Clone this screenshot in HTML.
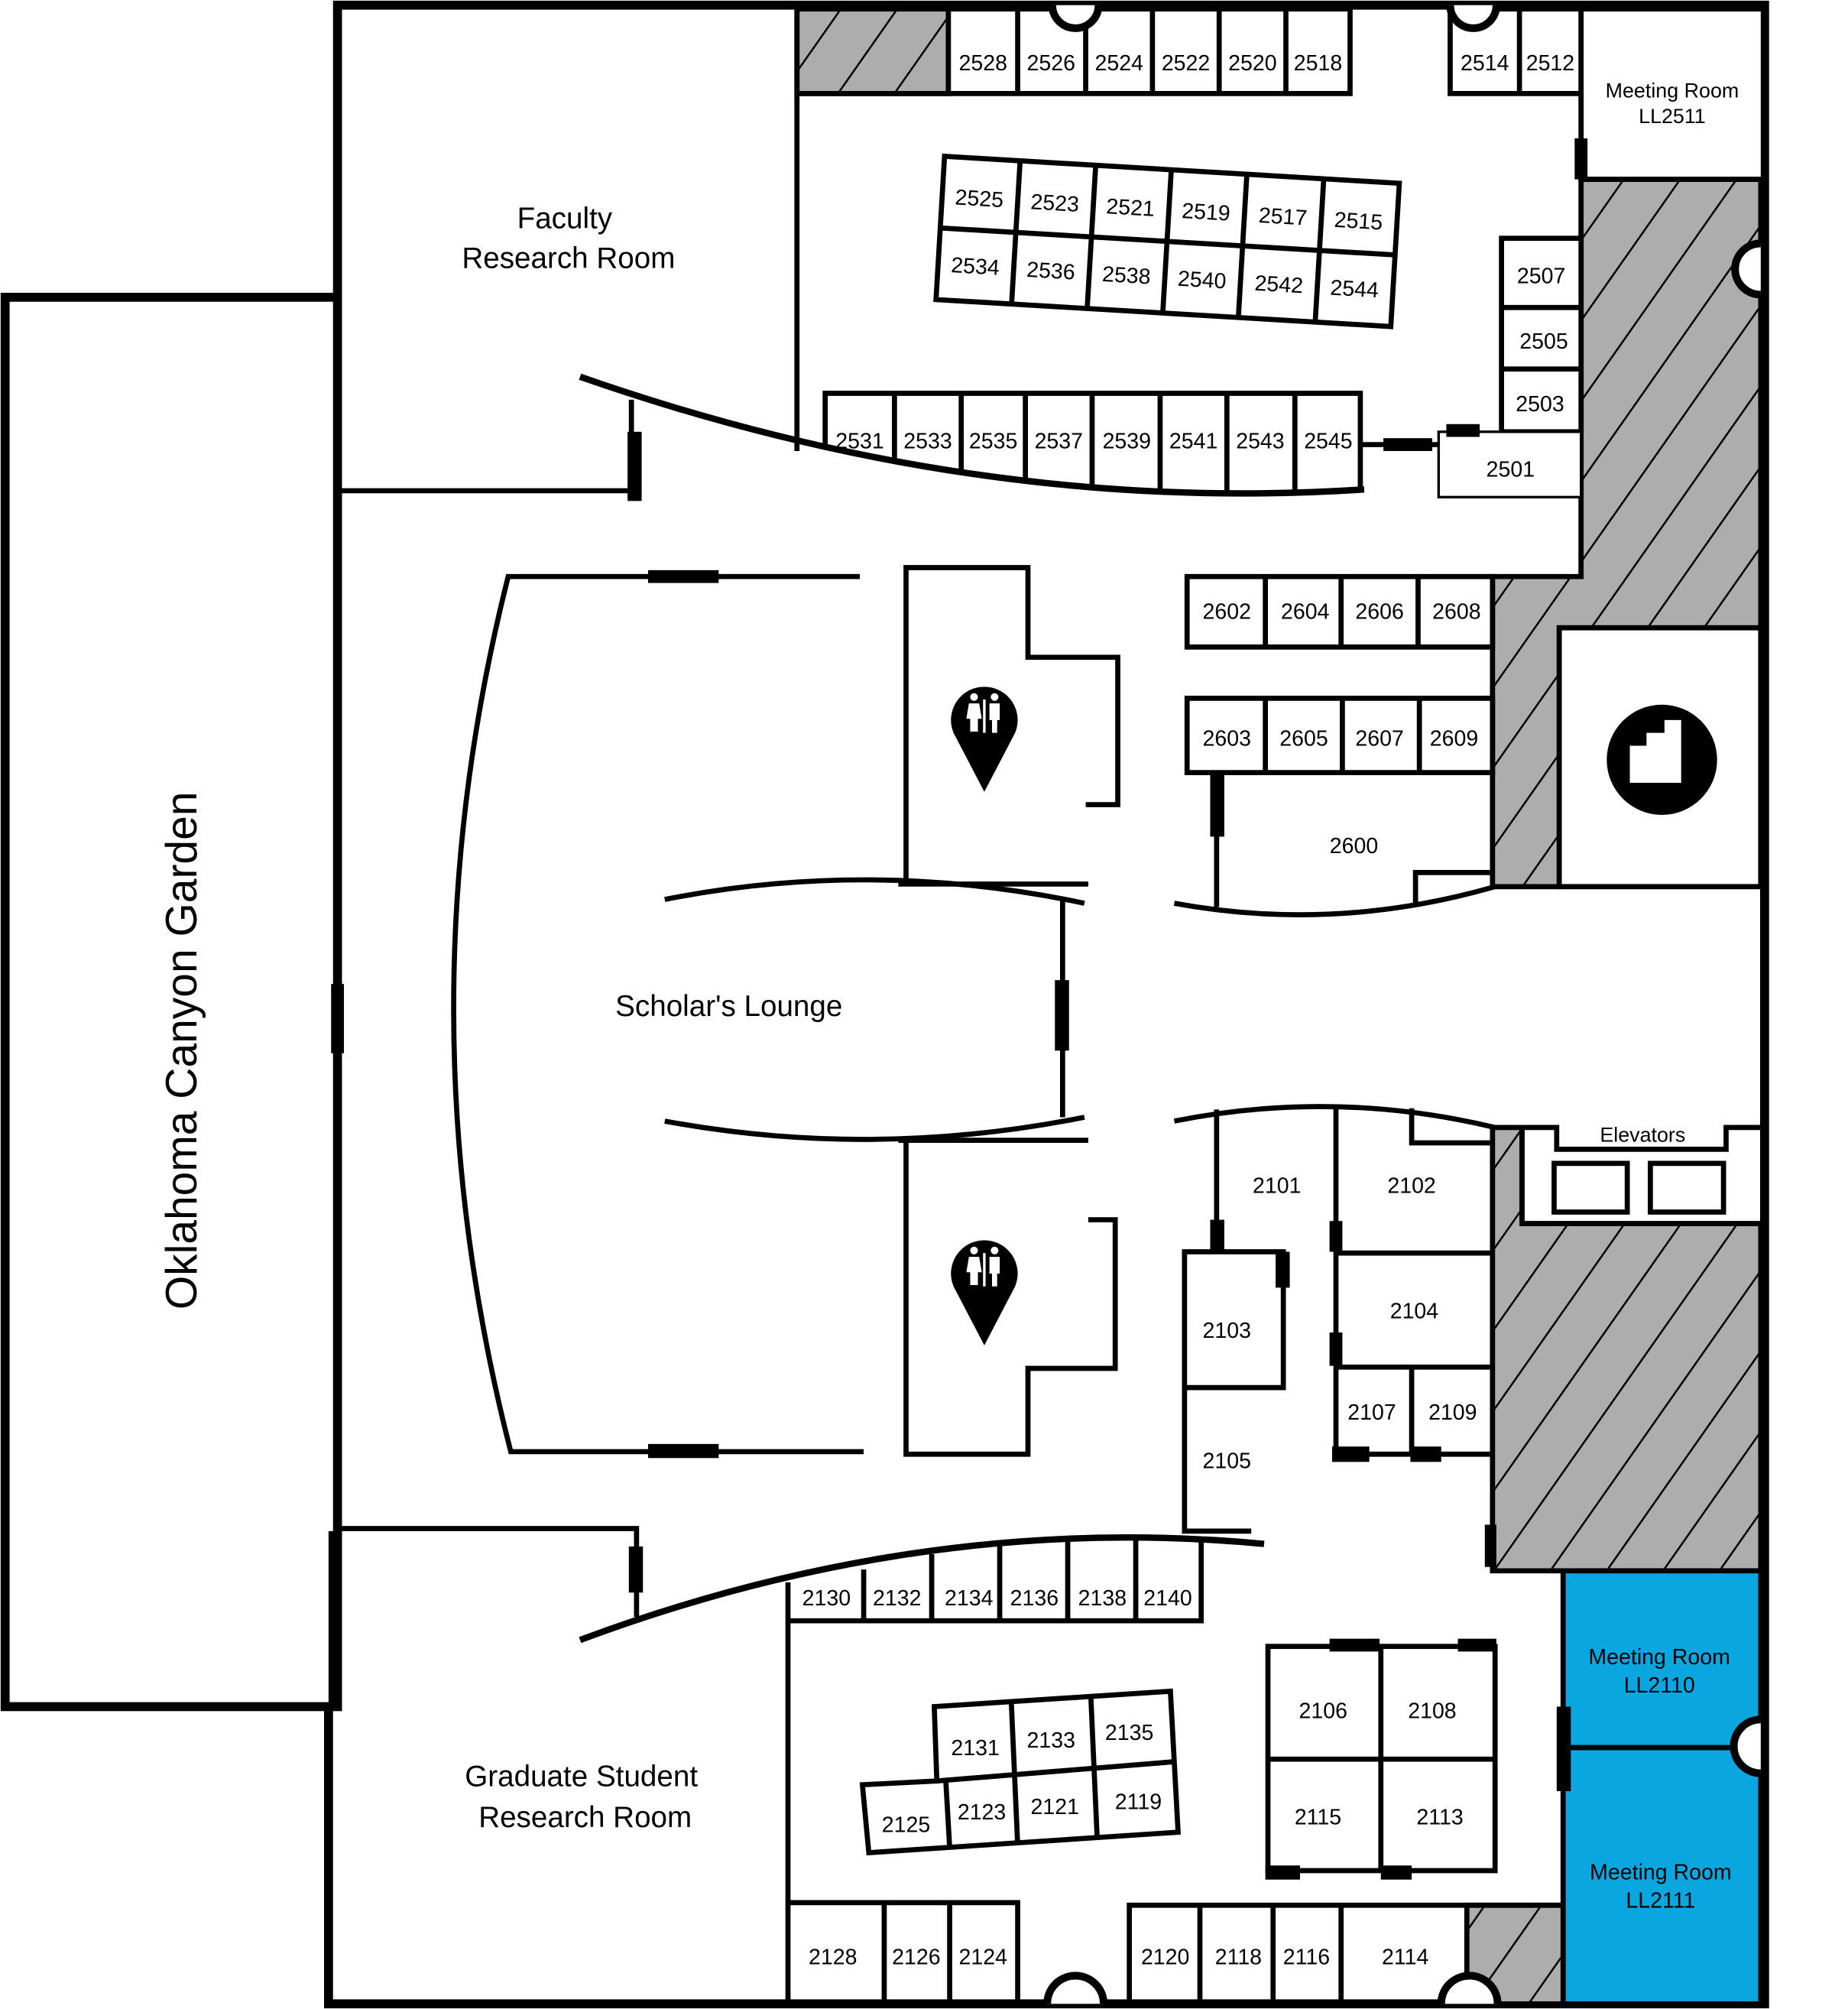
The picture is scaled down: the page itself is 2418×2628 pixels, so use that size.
<!DOCTYPE html>
<html><head><meta charset="utf-8"><style>
html,body{margin:0;padding:0;background:#fff;}
svg{display:block;}
text{font-family:"Liberation Sans",sans-serif;fill:#000;}
.t{font-size:17px;text-anchor:middle;}
.b{font-size:23px;text-anchor:middle;}
.w{fill:#fff;stroke:#000;stroke-width:4;}
.l{fill:none;stroke:#000;stroke-width:4;}
.h{fill:url(#hat);stroke:#000;stroke-width:4;}
</style></head><body>
<svg width="2418" height="2628" viewBox="0 0 1440 1568" preserveAspectRatio="none" xmlns="http://www.w3.org/2000/svg">
<defs>
<pattern id="hat" patternUnits="userSpaceOnUse" width="36" height="36" patternTransform="rotate(35)">
<rect width="36" height="36" fill="#adadad"/>
<line x1="0" y1="0" x2="0" y2="36" stroke="#000" stroke-width="3"/>
</pattern>
<g id="pin">
<path d="M0,60 L-24,14 A26,26 0 1,1 24,14 Z" fill="#000"/>
<circle cx="-8" cy="-14" r="3" fill="#fff"/><path d="M-12,-9 h8 l2,12 h-3 v10 h-6 v-10 h-3 z" fill="#fff"/>
<rect x="-1" y="-12" width="2" height="26" fill="#fff"/>
<circle cx="8" cy="-14" r="3" fill="#fff"/><path d="M4,-9 h8 v13 h-2 v10 h-4 v-10 h-2 z" fill="#fff"/>
</g>
</defs>
<rect width="1440" height="1568" fill="#fff"/>

<!-- garden -->
<rect x="4" y="232" width="259" height="1100" class="w" style="stroke-width:7"/>
<text transform="translate(153,820) rotate(-90)" font-size="34" text-anchor="middle">Oklahoma Canyon Garden</text>

<!-- outer walls -->
<path d="M263,232 V4 H1375 V1564 H256 V1332" class="l" style="stroke-width:7"/>
<path d="M263,232 V1195 M258,1195 V1332" class="l"/>
<rect x="258" y="768" width="10" height="54" fill="#000"/>

<!-- top -->
<rect x="621" y="7" width="118" height="66" class="h"/>
<rect x="739" y="7" width="313" height="66" class="w"/>
<path d="M793,7V73M846,7V73M898,7V73M950,7V73M1002,7V73" class="l"/>
<text class="t" x="766" y="55">2528</text><text class="t" x="819" y="55">2526</text><text class="t" x="872" y="55">2524</text><text class="t" x="924" y="55">2522</text><text class="t" x="976" y="55">2520</text><text class="t" x="1027" y="55">2518</text>
<rect x="1130" y="7" width="102" height="66" class="w"/><path d="M1184,7V73" class="l"/>
<text class="t" x="1157" y="55">2514</text><text class="t" x="1208" y="55">2512</text>
<path d="M820,4 A18,18 0 0,0 856,4" fill="#fff" stroke="#000" stroke-width="6"/>
<path d="M1130,4 A18,18 0 0,0 1166,4" fill="#fff" stroke="#000" stroke-width="6"/>
<rect x="1232" y="7" width="142" height="133" class="w"/>
<text class="t" x="1303" y="76" style="font-size:16px">Meeting Room</text><text class="t" x="1303" y="96" style="font-size:16px">LL2511</text>
<path d="M621,73 H739" class="l"/>
<path d="M621,7 V352" class="l"/>
<path d="M1232,73 V450" class="l"/>
<rect x="1227" y="108" width="10" height="32" fill="#000"/>

<!-- right hatched -->
<path d="M1232,140 H1372 V490 H1215 V692 H1163 V450 H1232 Z" class="h"/>
<rect x="1215" y="490" width="157" height="202" class="w"/>
<path d="M1163,692 H1374" class="l"/>
<path d="M1372,190 A20,20 0 0,0 1372,230" fill="#fff" stroke="#000" stroke-width="6"/>
<circle cx="1295" cy="593" r="43" fill="#000"/>
<path d="M1270,611 V582 H1283 V572 H1297 V562 H1310 V611 Z" fill="#fff"/>

<!-- top desk cluster -->
<g transform="translate(736,122) rotate(3.4)">
<rect x="0" y="0" width="355" height="112" class="w"/>
<path d="M0,56 H355 M59,0V112 M118,0V112 M177,0V112 M236,0V112 M296,0V112" class="l"/>
<text class="t" x="29" y="37">2525</text><text class="t" x="88" y="37">2523</text><text class="t" x="147" y="37">2521</text><text class="t" x="206" y="37">2519</text><text class="t" x="266" y="37">2517</text><text class="t" x="325" y="37">2515</text>
<text class="t" x="29" y="90">2534</text><text class="t" x="88" y="90">2536</text><text class="t" x="147" y="90">2538</text><text class="t" x="206" y="90">2540</text><text class="t" x="266" y="90">2542</text><text class="t" x="325" y="90">2544</text>
</g>

<!-- 2507-2501 -->
<rect x="1170" y="186" width="62" height="151" class="w"/>
<path d="M1170,240H1232M1170,288H1232" class="l"/>
<text class="t" x="1201" y="221">2507</text><text class="t" x="1203" y="272">2505</text><text class="t" x="1200" y="321">2503</text>
<rect x="1121" y="337" width="111" height="51" fill="#fff" stroke="#000" stroke-width="2"/>
<text class="t" x="1177" y="372">2501</text>
<rect x="1127" y="331" width="26" height="10" fill="#000"/>
<path d="M1060,347H1121" class="l"/><rect x="1078" y="342" width="38" height="10" fill="#000"/>

<!-- 2531 row -->
<path d="M643,350 V307 H1060 V382" class="l"/>
<path d="M697,307V360M749,307V370M799,307V376M851,307V380M904,307V384M956,307V385M1009,307V384" class="l"/>
<text class="t" x="670" y="350">2531</text><text class="t" x="723" y="350">2533</text><text class="t" x="774" y="350">2535</text><text class="t" x="825" y="350">2537</text><text class="t" x="878" y="350">2539</text><text class="t" x="930" y="350">2541</text><text class="t" x="982" y="350">2543</text><text class="t" x="1035" y="350">2545</text>
<path d="M452,294 Q760,402 1063,382" class="l" style="stroke-width:5"/>
<text class="b" x="440" y="178">Faculty</text><text class="b" x="443" y="209">Research Room</text>
<path d="M263,383 H495 M492,312 V390" class="l"/>
<rect x="489" y="337" width="11" height="54" fill="#000"/>

<!-- Scholar's lounge -->
<path d="M670,450 H396 Q310,790 398,1133 H673" class="l"/>
<rect x="505" y="445" width="55" height="10" fill="#000"/>
<rect x="505" y="1127" width="55" height="11" fill="#000"/>
<path d="M518,702 Q680,670 845,705 M518,875 Q680,905 845,872" class="l"/>
<path d="M700,690 H848 M700,890 H848 M828,700 V872" class="l"/>
<rect x="822" y="765" width="11" height="55" fill="#000"/>
<text class="b" x="568" y="793">Scholar's Lounge</text>
<path d="M706,690 V443 H801 V513 H871 V628 H846" class="l"/>
<path d="M706,890 V1135 H801 V1068 H869 V952 H848" class="l"/>
<use href="#pin" x="767" y="558"/>
<use href="#pin" x="767" y="990"/>

<!-- 2602 / 2603 -->
<rect x="925" y="450" width="238" height="55" class="w"/>
<path d="M986,450V505M1045,450V505M1105,450V505" class="l"/>
<text class="t" x="956" y="483">2602</text><text class="t" x="1017" y="483">2604</text><text class="t" x="1075" y="483">2606</text><text class="t" x="1135" y="483">2608</text>
<rect x="925" y="545" width="238" height="58" class="w"/>
<path d="M986,545V603M1046,545V603M1106,545V603" class="l"/>
<text class="t" x="956" y="582">2603</text><text class="t" x="1016" y="582">2605</text><text class="t" x="1075" y="582">2607</text><text class="t" x="1133" y="582">2609</text>
<path d="M948,603V708" class="l"/><rect x="943" y="603" width="11" height="50" fill="#000"/>
<text class="t" x="1055" y="666">2600</text>
<path d="M915,705 Q1040,728 1165,692" class="l"/>
<path d="M1103,706 V681 H1163" class="l"/>

<!-- lower right block -->
<path d="M915,875 Q1040,850 1165,880" class="l"/>
<path d="M948,866V975 M1041,862V1135" class="l"/>
<path d="M1100,865 V892 H1163" class="l"/>
<rect x="943" y="952" width="11" height="24" fill="#000"/>
<rect x="1036" y="953" width="10" height="24" fill="#000"/>
<rect x="1036" y="1040" width="10" height="26" fill="#000"/>
<text class="t" x="995" y="931">2101</text><text class="t" x="1100" y="931">2102</text>
<path d="M1041,978H1163 M1041,1067H1163 M1100,1067V1135 M1041,1135H1163" class="l"/>
<text class="t" x="1102" y="1029">2104</text>
<text class="t" x="1069" y="1108">2107</text><text class="t" x="1132" y="1108">2109</text>
<rect x="1038" y="1129" width="29" height="12" fill="#000"/>
<rect x="1099" y="1129" width="24" height="12" fill="#000"/>
<rect x="923" y="977" width="77" height="106" class="w"/>
<rect x="994" y="977" width="11" height="28" fill="#000"/>
<text class="t" x="956" y="1044">2103</text>
<path d="M923,1083V1195H975" class="l"/>
<text class="t" x="956" y="1146">2105</text>

<path d="M1163,880 H1186 V955 H1372 V1226 H1163 Z" class="h"/>
<path d="M1186,955 V880 H1213 V897 H1345 V880 H1372" class="l"/>
<path d="M1186,955 H1372" class="l"/>
<rect x="1211" y="908" width="57" height="38" class="w"/>
<rect x="1286" y="908" width="57" height="38" class="w"/>
<text class="t" x="1280" y="891" style="font-size:16px">Elevators</text>
<rect x="1157" y="1190" width="9" height="33" fill="#000"/>

<!-- meeting rooms blue -->
<rect x="1218" y="1226" width="154" height="138" fill="#0aa6e0" stroke="#000" stroke-width="4"/>
<rect x="1218" y="1364" width="154" height="200" fill="#0aa6e0" stroke="#000" stroke-width="4"/>
<text class="t" x="1293" y="1299">Meeting Room</text><text class="t" x="1293" y="1321">LL2110</text>
<text class="t" x="1294" y="1467">Meeting Room</text><text class="t" x="1294" y="1489">LL2111</text>
<path d="M1372,1342 A21,21 0 0,0 1372,1384" fill="#fff" stroke="#000" stroke-width="6"/>
<rect x="1213" y="1332" width="11" height="66" fill="#000"/>

<!-- graduate -->
<path d="M260,1193 H496 V1262" class="l"/>
<rect x="490" y="1207" width="11" height="36" fill="#000"/>
<path d="M452,1280 Q720,1180 985,1205" class="l" style="stroke-width:5"/>
<text class="b" x="453" y="1394">Graduate Student</text><text class="b" x="456" y="1426">Research Room</text>
<path d="M614,1235 V1564" class="l"/>
<path d="M614,1265 H936 V1200" class="l"/>
<path d="M673,1225V1265M726,1213V1265M779,1206V1265M832,1202V1265M885,1200V1265" class="l"/>
<text class="t" x="644" y="1253">2130</text><text class="t" x="699" y="1253">2132</text><text class="t" x="755" y="1253">2134</text><text class="t" x="806" y="1253">2136</text><text class="t" x="859" y="1253">2138</text><text class="t" x="910" y="1253">2140</text>

<!-- lower desk cluster -->
<path d="M728,1332 L912,1320 L918,1430 L677,1446 L672,1393 L730,1390 Z" class="w"/>
<path d="M730,1390 L915,1375 M788,1328 L793,1440 M850,1324 L855,1436 M737,1390 L740,1442" class="l"/>
<text class="t" x="760" y="1370">2131</text><text class="t" x="819" y="1364">2133</text><text class="t" x="880" y="1358">2135</text>
<text class="t" x="706" y="1430">2125</text><text class="t" x="765" y="1420">2123</text><text class="t" x="822" y="1416">2121</text><text class="t" x="887" y="1412">2119</text>

<!-- 2106 block -->
<rect x="988" y="1285" width="177" height="175" class="w"/>
<path d="M1076,1285V1460 M988,1373H1165" class="l"/>
<rect x="1036" y="1279" width="39" height="10" fill="#000"/>
<rect x="1136" y="1279" width="30" height="10" fill="#000"/>
<rect x="986" y="1456" width="27" height="11" fill="#000"/>
<rect x="1076" y="1456" width="24" height="11" fill="#000"/>
<text class="t" x="1031" y="1341">2106</text><text class="t" x="1116" y="1341">2108</text>
<text class="t" x="1027" y="1424">2115</text><text class="t" x="1122" y="1424">2113</text>

<!-- bottom rooms -->
<path d="M614,1485 H793 V1564 M689,1485V1564 M740,1485V1564" class="l"/>
<text class="t" x="649" y="1533">2128</text><text class="t" x="714" y="1533">2126</text><text class="t" x="766" y="1533">2124</text>
<rect x="1143" y="1487" width="75" height="77" class="h"/>
<path d="M880,1564 V1487 H1218 M935,1487V1564 M992,1487V1564 M1045,1487V1564" class="l"/>
<text class="t" x="908" y="1533">2120</text><text class="t" x="965" y="1533">2118</text><text class="t" x="1018" y="1533">2116</text><text class="t" x="1095" y="1533">2114</text>
<path d="M816,1564 A22,22 0 0,1 860,1564" fill="#fff" stroke="#000" stroke-width="6"/>
<path d="M1123,1564 A22,22 0 0,1 1167,1564" fill="#fff" stroke="#000" stroke-width="6"/>
</svg>
</body></html>
